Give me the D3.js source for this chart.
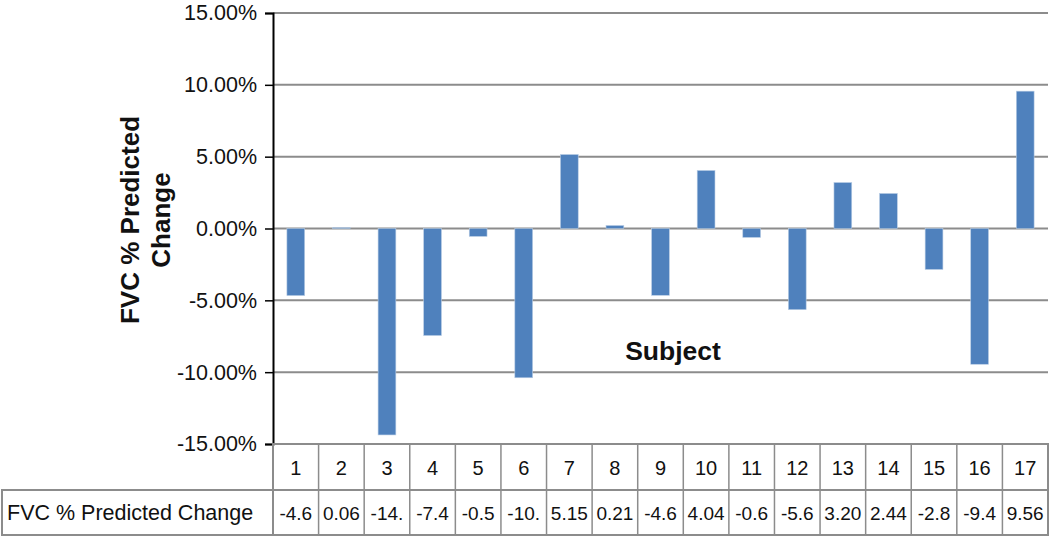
<!DOCTYPE html>
<html>
<head>
<meta charset="utf-8">
<script src="https://cdn.jsdelivr.net/npm/d3@7"></script>
<style>
  body { margin: 0; background: #fff; }
  text { font-family: "Liberation Sans", Arial, sans-serif; }
</style>
</head>
<body>
<script>
// FVC % predicted change per subject
var subjects = ['1','2','3','4','5','6','7','8','9','10','11','12','13','14','15','16','17'];
var changes = [-4.67, 0.06, -14.37, -7.45, -0.55, -10.39, 5.15, 0.21, -4.65, 4.04, -0.62, -5.65, 3.20, 2.44, -2.85, -9.45, 9.56];
var tableLabels = ['-4.6','0.06','-14.','-7.4','-0.5','-10.','5.15','0.21','-4.6','4.04','-0.6','-5.6','3.20','2.44','-2.8','-9.4','9.56'];
var yTicks = [-15, -10, -5, 0, 5, 10, 15];

var svgWidth = 1050;
var svgHeight = 538;

var plot = { left: 273, right: 1048, top: 13, bottom: 444 };

var svg = d3.select('body').append('svg')
  .attr('width', svgWidth)
  .attr('height', svgHeight);

var xScale = d3.scaleBand()
  .domain(subjects)
  .range([plot.left, plot.right])
  .paddingInner(0.61)
  .paddingOuter(0.305);

var colScale = d3.scaleBand()
  .domain(subjects)
  .range([plot.left, plot.right]);

var yScale = d3.scaleLinear()
  .domain([-15, 15])
  .range([plot.bottom, plot.top]);

// gridlines
svg.append('g')
  .selectAll('line')
  .data(yTicks)
  .enter()
  .append('line')
  .attr('x1', plot.left)
  .attr('x2', plot.right)
  .attr('y1', function(d) { return yScale(d); })
  .attr('y2', function(d) { return yScale(d); })
  .attr('stroke', '#8c8c8c')
  .attr('stroke-width', 2);

// bars
svg.append('g')
  .selectAll('rect')
  .data(changes)
  .enter()
  .append('rect')
  .attr('x', function(d, i) { return xScale(subjects[i]); })
  .attr('width', xScale.bandwidth())
  .attr('y', function(d) { return yScale(Math.max(0, d)); })
  .attr('height', function(d) { return Math.abs(yScale(d) - yScale(0)); })
  .attr('fill', '#4f81bd')
  .attr('stroke', '#b9cde5')
  .attr('stroke-width', 0.6);

// y axis
var leftAxis = d3.axisLeft(yScale)
  .tickValues(yTicks)
  .tickSize(8)
  .tickFormat(function(d) { return d.toFixed(2) + '%'; });

var yAxis = svg.append('g')
  .attr('transform', 'translate(' + plot.left + ',0)')
  .call(leftAxis);
yAxis.select('.domain').attr('stroke', '#000').attr('stroke-width', 2);
yAxis.selectAll('.tick line').attr('stroke', '#000').attr('stroke-width', 1.5);
yAxis.selectAll('.tick text')
  .attr('x', -16)
  .attr('font-size', 21.5)
  .attr('font-family', '"Liberation Sans", Arial, sans-serif')
  .attr('fill', '#111');

// y axis title
var yTitle = svg.append('text')
  .attr('transform', 'translate(146, 220) rotate(-90)')
  .attr('text-anchor', 'middle')
  .attr('font-size', 26)
  .attr('font-weight', 'bold')
  .attr('fill', '#111');
yTitle.append('tspan').attr('x', 0).attr('y', -7).text('FVC % Predicted');
yTitle.append('tspan').attr('x', 0).attr('y', 24).text('Change');

// x axis title (sits inside the plot in the original)
svg.append('text')
  .attr('x', 673)
  .attr('y', 360)
  .attr('text-anchor', 'middle')
  .attr('font-size', 26.5)
  .attr('font-weight', 'bold')
  .attr('fill', '#111')
  .text('Subject');

// data table below the chart
var rowTop = plot.bottom;
var rowMid = 490;
var rowBot = 535;
var table = svg.append('g');

table.append('rect')
  .attr('x', plot.left)
  .attr('y', rowTop)
  .attr('width', plot.right - plot.left)
  .attr('height', rowBot - rowTop)
  .attr('fill', 'none')
  .attr('stroke', '#8c8c8c')
  .attr('stroke-width', 2);

table.append('rect')
  .attr('x', 2)
  .attr('y', rowMid)
  .attr('width', plot.right - 2)
  .attr('height', rowBot - rowMid)
  .attr('fill', 'none')
  .attr('stroke', '#8c8c8c')
  .attr('stroke-width', 2);

table.selectAll('.sep')
  .data(subjects.slice(1))
  .enter()
  .append('line')
  .attr('x1', function(d) { return colScale(d); })
  .attr('x2', function(d) { return colScale(d); })
  .attr('y1', rowTop)
  .attr('y2', rowBot)
  .attr('stroke', '#8c8c8c')
  .attr('stroke-width', 1.5);

table.selectAll('.subj')
  .data(subjects)
  .enter()
  .append('text')
  .attr('x', function(d) { return colScale(d) + colScale.bandwidth() / 2; })
  .attr('y', 475)
  .attr('text-anchor', 'middle')
  .attr('font-size', 20)
  .attr('fill', '#111')
  .text(function(d) { return d; });

table.selectAll('.val')
  .data(tableLabels)
  .enter()
  .append('text')
  .attr('x', function(d, i) { return colScale(subjects[i]) + colScale.bandwidth() / 2; })
  .attr('y', 520)
  .attr('text-anchor', 'middle')
  .attr('font-size', 19)
  .attr('fill', '#111')
  .text(function(d) { return d; });

table.append('text')
  .attr('x', 7)
  .attr('y', 520)
  .attr('font-size', 21.5)
  .attr('fill', '#111')
  .text('FVC % Predicted Change');
</script>
</body>
</html>
